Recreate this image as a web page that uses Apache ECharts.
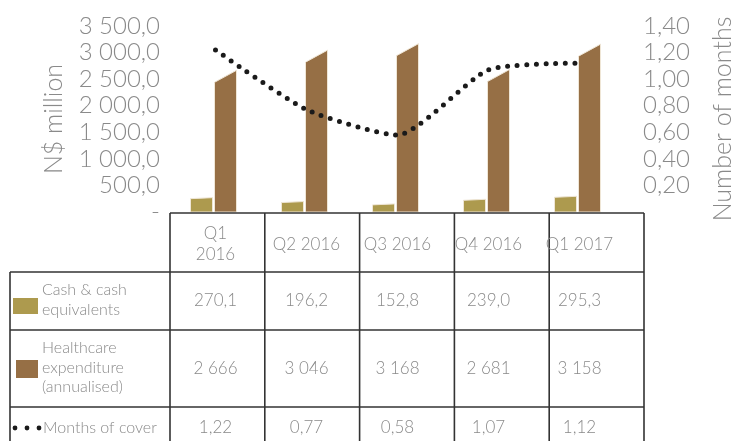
<!DOCTYPE html>
<html>
<head>
<meta charset="utf-8">
<script src="https://cdn.jsdelivr.net/npm/echarts@6/dist/echarts.min.js"></script>
<style>
  html, body { margin: 0; padding: 0; background: #fff; }
  #chart { width: 743px; height: 441px; }
</style>
</head>
<body>
<div id="chart"></div>
<script>
// Quarterly data
const categories = ['Q1 2016', 'Q2 2016', 'Q3 2016', 'Q4 2016', 'Q1 2017'];
const headerLabels = ['Q1\n2016', 'Q2 2016', 'Q3 2016', 'Q4 2016', 'Q1 2017'];
const cashValues = [270.1, 196.2, 152.8, 239.0, 295.3];
const healthcareValues = [2666, 3046, 3168, 2681, 3158];
const monthsOfCover = [1.22, 0.77, 0.58, 1.07, 1.12];
const rowLabels = ['Cash & cash\nequivalents', 'Healthcare\nexpenditure\n(annualised)', 'Months of cover'];

const FONT = 'Lato';
const TEXT = '#8a8a8a';
const CASH = '#ad9a4e';
const HEALTH = '#966f45';
const GRID_COLOR = '#333';

function withSpaces(intStr) {
  return intStr.replace(/\B(?=(\d{3})+(?!\d))/g, ' ');
}
function fmtMoney(v) {
  const parts = v.toFixed(1).split('.');
  return withSpaces(parts[0]) + ',' + parts[1];
}
function fmtInt(v) { return withSpaces(String(Math.round(v))); }
function fmtMonths(v) { return v.toFixed(2).replace('.', ','); }

// Bars with a slanted top edge (left corner drops by `skew` px)
function slantedBar(side, skew) {
  return function (params, api) {
    const idx = api.value(0);
    const top = api.coord([idx, api.value(1)]);
    const base = api.coord([idx, 0]);
    const w = 22;
    const x0 = side === 0 ? top[0] - 25 : top[0] - 1;
    return {
      type: 'polygon',
      shape: {
        points: [[x0, base[1]], [x0, Math.min(base[1], top[1] + skew)], [x0 + w, top[1]], [x0 + w, base[1]]]
      },
      style: api.style({ stroke: '#efe6d6', lineWidth: 1 })
    };
  };
}

const chart = echarts.init(document.getElementById('chart'));

const option = {
  animation: false,
  backgroundColor: '#fff',
  grid: { left: 170, right: 99, top: 26, bottom: 229 },
  xAxis: {
    type: 'category',
    data: categories,
    axisLine: { show: false },
    axisTick: { show: false },
    axisLabel: { show: false }
  },
  yAxis: [
    {
      type: 'value', min: 0, max: 3500, interval: 500,
      name: 'N$ million', nameLocation: 'middle', nameGap: 104, nameRotate: 90,
      nameTextStyle: { fontFamily: FONT, fontSize: 25, color: TEXT, fontWeight: 300 },
      axisLine: { show: false }, axisTick: { show: false }, splitLine: { show: false },
      axisLabel: {
        margin: 10, fontFamily: FONT, fontSize: 24, color: TEXT, fontWeight: 300,
        formatter: v => v === 0 ? '-' : fmtMoney(v)
      }
    },
    {
      type: 'value', min: 0, max: 1.4, interval: 0.2,
      name: 'Number of months', nameLocation: 'middle', nameGap: 85, nameRotate: 90,
      nameTextStyle: { fontFamily: FONT, fontSize: 25, color: TEXT, fontWeight: 300 },
      axisLine: { show: false }, axisTick: { show: false }, splitLine: { show: false },
      axisLabel: {
        margin: 18, fontFamily: FONT, fontSize: 24, color: TEXT, fontWeight: 300,
        formatter: v => v === 0 ? '' : fmtMonths(v)
      }
    }
  ],
  series: [
    {
      name: 'Cash & cash equivalents', type: 'custom',
      renderItem: slantedBar(0, 1),
      itemStyle: { color: CASH },
      encode: { x: 0, y: 1 },
      data: cashValues.map((v, i) => [i, v]),
      z: 2
    },
    {
      name: 'Healthcare expenditure (annualised)', type: 'custom',
      renderItem: slantedBar(1, 12),
      itemStyle: { color: HEALTH },
      encode: { x: 0, y: 1 },
      data: healthcareValues.map((v, i) => [i, v]),
      z: 2
    },
    {
      name: 'Months of cover', type: 'line', yAxisIndex: 1,
      data: monthsOfCover, smooth: 0.2, showSymbol: false,
      lineStyle: { color: '#1a1a1a', width: 5, type: [0, 9.6], cap: 'round' },
      z: 5
    }
  ]
};
chart.setOption(option);

// Data table under the plot
const L = 10, X0 = 170, X1 = 644;
const yHead = 213, yR1 = 272, yR2 = 330, yR3 = 407, yEnd = 470;
const g = [];
const line = (x1, y1, x2, y2) => g.push({
  type: 'line', shape: { x1, y1, x2, y2 },
  style: { stroke: GRID_COLOR, lineWidth: 1.6 }, z: 10
});
const colW = (X1 - X0) / categories.length;
line(X0, yHead, X1, yHead);
[yR1, yR2, yR3].forEach(y => line(L, y, X1, y));
line(L, yR1, L, yEnd);
for (let i = 0; i <= categories.length; i++) line(X0 + i * colW, yHead, X0 + i * colW, yEnd);

const cellText = (x, y, text, extra) => g.push(Object.assign({
  type: 'text', x, y,
  style: Object.assign({
    text, fill: TEXT, fontFamily: FONT, fontSize: 17, fontWeight: 300,
    align: 'center', verticalAlign: 'middle', lineHeight: 21
  }, extra || {}), z: 11
}));

categories.forEach((c, i) => {
  const cx = chart.convertToPixel({ xAxisIndex: 0 }, i);
  cellText(cx, (yHead + yR1) / 2 + 2, headerLabels[i]);
  cellText(cx, (yR1 + yR2) / 2, fmtMoney(cashValues[i]));
  cellText(cx, (yR2 + yR3) / 2, fmtInt(healthcareValues[i]));
  cellText(cx, 428, fmtMonths(monthsOfCover[i]));
});

// Row labels with legend keys
const rowStyle = { align: 'left', fontSize: 16, lineHeight: 19.5 };
cellText(42, (yR1 + yR2) / 2 - 1, rowLabels[0], rowStyle);
cellText(42, (yR2 + yR3) / 2 - 1, rowLabels[1], rowStyle);
cellText(43, 428, rowLabels[2], rowStyle);
g.push({ type: 'rect', shape: { x: 13, y: 298, width: 25, height: 16 }, style: { fill: CASH }, z: 11 });
g.push({ type: 'rect', shape: { x: 16, y: 360, width: 22, height: 18 }, style: { fill: HEALTH }, z: 11 });
[15, 27, 39].forEach(x => g.push({
  type: 'circle', shape: { cx: x, cy: 428, r: 2.4 }, style: { fill: '#1a1a1a' }, z: 11
}));

chart.setOption({ graphic: { elements: g } });
</script>
</body>
</html>
